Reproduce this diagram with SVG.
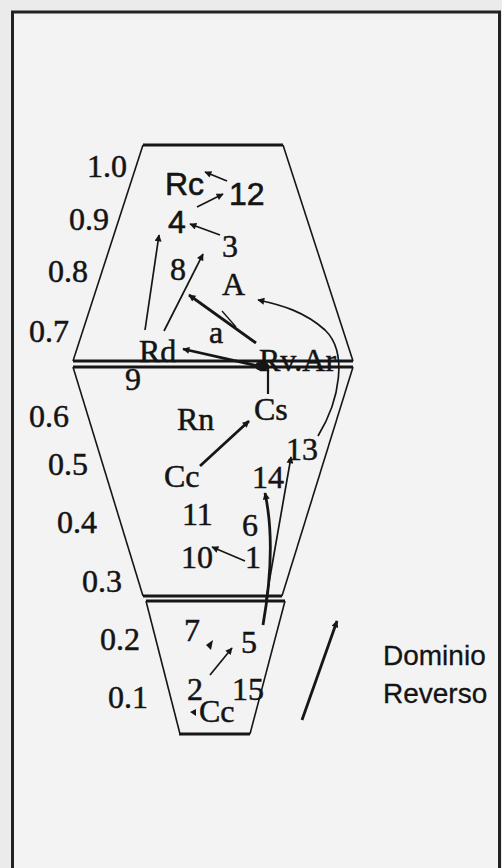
<svg xmlns="http://www.w3.org/2000/svg" width="502" height="868" viewBox="0 0 502 868">
<defs>
<style>
.s{font-family:"Liberation Serif","Times New Roman",serif;font-size:32px;fill:#141414;stroke:#141414;stroke-width:0.5}
.h{font-family:"Liberation Sans",Arial,sans-serif;font-size:32px;fill:#141414;stroke:#141414;stroke-width:0.6}
.lg{font-family:"Liberation Sans",Arial,sans-serif;font-size:28px;fill:#141414;stroke:#141414;stroke-width:0.3}
.edge{fill:none;stroke:#161616;stroke-width:1.6}
.bar{fill:none;stroke:#161616;stroke-width:2.8}
.c{fill:none;stroke:#161616;stroke-width:1.7;marker-end:url(#ah)}
.ct{fill:none;stroke:#161616;stroke-width:2.8;marker-end:url(#ah)}
</style>
<marker id="ah" viewBox="0 0 10 10" refX="9" refY="5" markerWidth="10" markerHeight="7" markerUnits="userSpaceOnUse" orient="auto">
<path d="M0,0 L10,5 L0,10 Z" fill="#161616"/>
</marker>
</defs>
<rect x="0" y="0" width="502" height="868" fill="#ebebeb"/>
<rect x="12.5" y="12" width="487" height="870" fill="#f3f3f3" stroke="#222" stroke-width="3"/>

<g id="frame-shape">
<line class="bar" x1="143" y1="145" x2="283" y2="145"/>
<line class="edge" x1="143" y1="145" x2="73" y2="361"/>
<line class="edge" x1="283" y1="145" x2="353" y2="361"/>
<line class="bar" x1="73" y1="361" x2="353" y2="361"/>
<line class="bar" x1="73" y1="367" x2="353" y2="367"/>
<line class="edge" x1="73" y1="367" x2="143" y2="596"/>
<line class="edge" x1="353" y1="367" x2="282" y2="596"/>
<line class="bar" x1="143" y1="596" x2="282" y2="596"/>
<line class="bar" x1="146" y1="601" x2="285" y2="601"/>
<line class="edge" x1="146" y1="601" x2="180" y2="734"/>
<line class="edge" x1="285" y1="601" x2="250" y2="734"/>
<line class="bar" x1="179" y1="734" x2="250" y2="734"/>
</g>

<g id="axis">
<text class="s" x="87" y="177">1.0</text>
<text class="s" x="69" y="230">0.9</text>
<text class="s" x="48" y="282">0.8</text>
<text class="s" x="29" y="342">0.7</text>
<text class="s" x="29" y="427">0.6</text>
<text class="s" x="48" y="475">0.5</text>
<text class="s" x="57" y="533">0.4</text>
<text class="s" x="82" y="592">0.3</text>
<text class="s" x="100" y="650">0.2</text>
<text class="s" x="108" y="708">0.1</text>
</g>

<g id="connectors">
<line class="c" x1="227" y1="181" x2="205" y2="172"/>
<line class="c" x1="197" y1="207" x2="223" y2="194"/>
<line class="c" x1="220" y1="235" x2="190" y2="224"/>
<line class="c" x1="145" y1="330" x2="159" y2="235"/>
<line class="c" x1="164" y1="331" x2="203" y2="254"/>
<line class="ct" x1="256" y1="343" x2="189" y2="295"/>
<line x1="222" y1="311" x2="236" y2="327" stroke="#161616" stroke-width="1.4"/>
<path class="c" d="M318,436 C340,400 348,352 325,330 C305,312 282,305 258,300"/>
<line class="ct" x1="258" y1="366" x2="183" y2="349"/>
<line x1="268" y1="367" x2="268" y2="394" stroke="#161616" stroke-width="2.2"/>
<ellipse cx="262" cy="366" rx="7" ry="5" fill="#161616"/>
<line class="ct" x1="200" y1="466" x2="249" y2="421"/>
<line class="c" x1="245" y1="561" x2="212" y2="547"/>
<path class="ct" d="M263,625 C270,585 274,535 265,493"/>
<line class="c" x1="266" y1="600" x2="291" y2="457"/>
<line class="c" x1="210" y1="675" x2="232" y2="648"/>
<path d="M213,640 L206,645 L211,650 Z" fill="#161616"/>
<path d="M196,709 L190,712 L196,716 Z" fill="#161616"/>
<line class="ct" x1="302" y1="720" x2="337" y2="621"/>
</g>

<g id="n-Rc"><text class="h" x="165" y="195">Rc</text></g>
<g id="n-12"><text class="h" x="229" y="205">12</text></g>
<g id="n-4"><text class="h" x="168" y="233">4</text></g>
<g id="n-3"><text class="s" x="222" y="257">3</text></g>
<g id="n-8"><text class="s" x="170" y="280">8</text></g>
<g id="n-A"><text class="s" x="222" y="295">A</text></g>
<g id="n-a"><text class="s" x="209" y="343">a</text></g>
<g id="n-Rd"><text class="s" x="139" y="362">Rd</text></g>
<g id="n-RvAr"><text class="s" x="259" y="371">Rv.Ar</text></g>
<g id="n-9"><text class="s" x="125" y="390">9</text></g>
<g id="n-Cs"><text class="s" x="254" y="420">Cs</text></g>
<g id="n-Rn"><text class="s" x="177" y="430">Rn</text></g>
<g id="n-13"><text class="s" x="286" y="460">13</text></g>
<g id="n-Cc"><text class="s" x="164" y="487">Cc</text></g>
<g id="n-14"><text class="s" x="252" y="488">14</text></g>
<g id="n-11"><text class="s" x="182" y="525">11</text></g>
<g id="n-6"><text class="s" x="242" y="536">6</text></g>
<g id="n-10"><text class="s" x="181" y="568">10</text></g>
<g id="n-1"><text class="s" x="245" y="568">1</text></g>
<g id="n-7"><text class="s" x="184" y="641">7</text></g>
<g id="n-5"><text class="s" x="241" y="653">5</text></g>
<g id="n-2"><text class="s" x="187" y="700">2</text></g>
<g id="n-15"><text class="s" x="232" y="700">15</text></g>
<g id="n-Cc2"><text class="s" x="199" y="722">Cc</text></g>
<g id="legend">
<text class="lg" x="383" y="665">Dominio</text>
<text class="lg" x="383" y="703">Reverso</text>
</g>
</svg>
